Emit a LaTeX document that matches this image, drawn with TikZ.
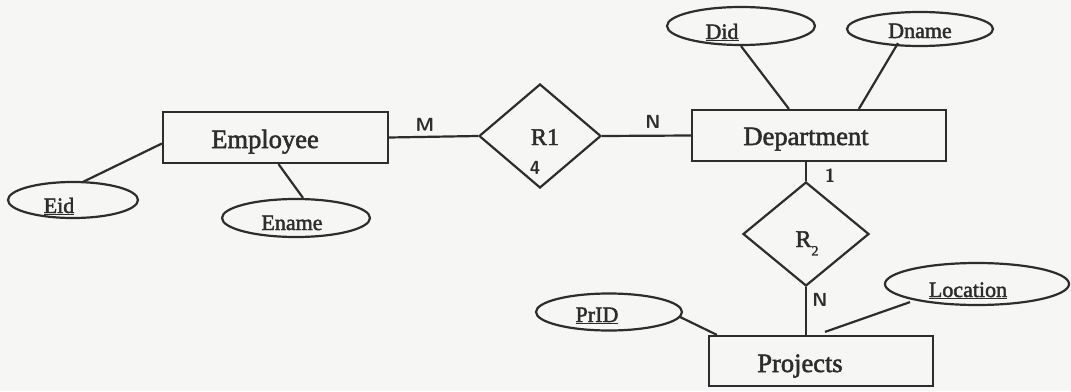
\documentclass[tikz,border=0pt]{standalone}
\usepackage{fontspec}
\setmainfont[FakeBold=2]{Liberation Serif}
\usetikzlibrary{shapes.geometric,calc}
\definecolor{ink}{RGB}{45,45,45}
\definecolor{paper}{RGB}{246,246,244}
\begin{document}
\begin{tikzpicture}[x=1pt,y=-1pt,
  entity/.style={rectangle, draw=ink, line width=2.2pt, inner sep=0pt},
  attr/.style={ellipse, draw=ink, line width=2.2pt, inner sep=0pt},
  rel/.style={diamond, draw=ink, line width=2.2pt, inner sep=0pt},
  etext/.style={text=ink, font=\fontsize{26.5}{30}\selectfont, inner sep=0pt, anchor=base},
  atext/.style={text=ink, font=\fontsize{22}{26}\selectfont, inner sep=0pt, anchor=base},
  rtext/.style={text=ink, font=\fontsize{24}{28}\selectfont, inner sep=0pt, anchor=base},
  hand/.style={text=ink, font=\sffamily\bfseries\fontsize{19}{19}\selectfont, inner sep=0pt},
  conn/.style={draw=ink, line width=2.2pt}]

% page
\fill[paper] (0,0) rectangle (1071,391);
\useasboundingbox (0,0) rectangle (1071,391);

% entities
\node[entity, minimum width=225pt, minimum height=51pt] (emp)  at (275.5,137.5) {};
\node[entity, minimum width=254pt, minimum height=51pt] (dept) at (819,135.5) {};
\node[entity, minimum width=224pt, minimum height=50pt] (proj) at (821,361) {};
\node[etext] (empt)  at (265,148) {Employee};
\node[etext] (deptt) at (806,145) {Department};
\node[etext] (projt) at (800,372) {Projects};

% relationships
\node[rel, minimum width=122pt, minimum height=104pt] (r1) at (540,136) {};
\node[rel, minimum width=126pt, minimum height=104pt] (r2) at (806,234) {};
\node[rtext] (r1t) at (545,145) {R1};
\node[rtext] (r2t) at (807,247) {R\raisebox{-0.35em}{\fontsize{14}{14}\selectfont 2}};

% attributes
\node[attr, minimum width=130pt, minimum height=36pt] (eid)   at (73,200) {};
\node[attr, minimum width=148pt, minimum height=38pt] (ename) at (296,218) {};
\node[attr, minimum width=148pt, minimum height=38pt] (did)   at (741,26) {};
\node[attr, minimum width=146pt, minimum height=34pt] (dname) at (920,29) {};
\node[attr, minimum width=146pt, minimum height=37pt] (prid)  at (609,312) {};
\node[attr, minimum width=184pt, minimum height=42pt] (loc)   at (977,284) {};
\node[atext] (eidt)   at (59,213)  {\underline{Eid}};
\node[atext] (enamet) at (292,230) {Ename};
\node[atext] (didt)   at (722,39)  {\underline{Did}};
\node[atext] (dnamet) at (920,38)  {Dname};
\node[atext] (pridt)  at (597,322) {\underline{PrID}};
\node[atext] (loct)   at (968,297) {\underline{Location}};

% connectors
\draw[conn] (emp.east) -- (r1.west);
\draw[conn] (r1.east) -- (dept.west);
\draw[conn] (dept.south -| r2.north) -- (r2.north);
\draw[conn] (r2.south) -- (r2.south |- proj.north);
\draw[conn] ($(eid.north)+(10,1)$) -- ($(emp.west)+(0,6)$);
\draw[conn] ($(emp.south)+(3,0)$) -- ($(ename.north)+(7,0)$);
\draw[conn] (did.south) -- ($(dept.north west)+(98,0)$);
\draw[conn] ($(dname.south)+(-22,-4)$) -- ($(dept.north west)+(168,0)$);
\draw[conn] ($(prid.east)+(-3,5)$) -- ($(proj.north west)+(9,0)$);
\draw[conn] ($(loc.south)+(-67,-4)$) -- ($(proj.north)+(4,-3)$);

% cardinalities
\node[hand] (cm)  at (425,125) {M};
\node[hand] (cn)  at (653,122) {N};
\node[hand] (c1)  at (830,176) {1};
\node[hand] (cn2) at (820,300) {N};
\node[hand] (c4)  at (535,168) {4};
\end{tikzpicture}
\end{document}
